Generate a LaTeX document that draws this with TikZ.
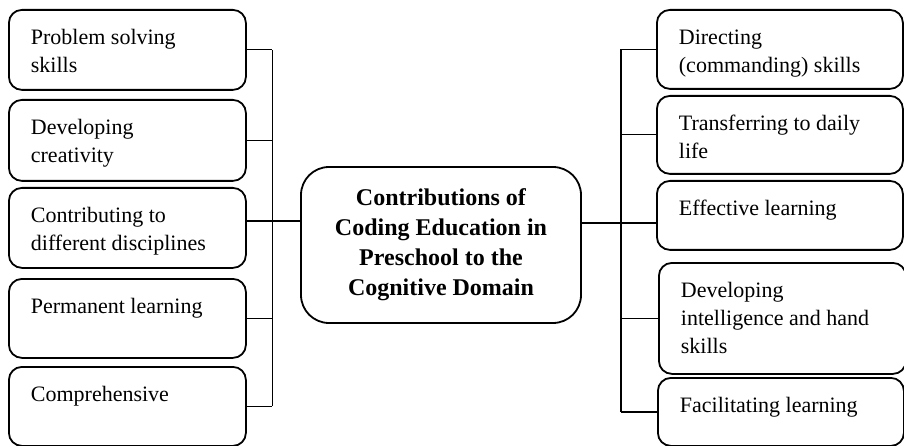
\documentclass[tikz,border=0pt]{standalone}
\usepackage{fontspec}
\setmainfont{Liberation Serif}

% text of a side box: fixed size, text at the top
\newcommand{\boxtext}[3]{%
    \parbox[c][#2pt][t]{\dimexpr#1pt-44pt\relax}{\raggedright\rule{0pt}{35pt}#3}}

\begin{document}
\begin{tikzpicture}[x=1pt,y=-1pt]
    \tikzset{
        item/.style={
            draw,
            line width=1.8pt,
            rounded corners=13pt,
            anchor=north west,
            inner xsep=22pt,
            inner ysep=0pt,
            font=\fontsize{22}{28}\selectfont
        },
        hub/.style={
            draw,
            line width=1.8pt,
            rounded corners=28pt,
            align=center,
            minimum width=280pt,
            minimum height=156pt,
            font=\fontsize{24}{30}\selectfont\bfseries
        },
        link/.style={line width=1.2pt}
    }

    \useasboundingbox (0,0) rectangle (904,446);

    \node[hub] (centre) at (441,245) {Contributions of\\Coding Education in\\Preschool to the\\Cognitive Domain};

    \node[item] (L1) at (8,9) {\boxtext{237}{80}{Problem solving\\skills}};
    \node[item] (L2) at (8,99) {\boxtext{237}{81}{Developing\\creativity}};
    \node[item] (L3) at (8,187) {\boxtext{237}{80}{Contributing to\\different disciplines}};
    \node[item] (L4) at (8,278) {\boxtext{237}{79}{Permanent learning}};
    \node[item] (L5) at (8,366) {\boxtext{237}{79}{Comprehensive}};

    \node[item] (R1) at (656,9) {\boxtext{246}{79}{Directing\\(commanding) skills}};
    \node[item] (R2) at (656,95) {\boxtext{246}{78}{Transferring to daily\\life}};
    \node[item] (R3) at (656,180) {\boxtext{246}{69}{Effective learning}};
    \node[item] (R4) at (658,262) {\boxtext{247}{111}{Developing\\intelligence and hand\\skills}};
    \node[item] (R5) at (657,377) {\boxtext{246}{68}{Facilitating learning}};

    \coordinate (jl) at ([xshift=-28pt,yshift=24pt] centre.west);
    \coordinate (jr) at ([xshift=39pt,yshift=22pt] centre.east);

    % left side
    \draw[link] (L3.east |- jl) -- (centre.west |- jl);
    \foreach \n in {L1,L2,L4,L5}
        \draw[link] (\n.east) -- (\n.east -| jl);
    \draw[link] (L1.east -| jl) -- (L5.east -| jl);

    % right side
    \draw[link] (centre.east |- jr) -- (R3.west |- jr);
    \foreach \n in {R1,R2,R4,R5}
        \draw[link] (\n.west) -- (\n.west -| jr);
    \draw[link] (R1.west -| jr) -- (R5.west -| jr);
\end{tikzpicture}
\end{document}
